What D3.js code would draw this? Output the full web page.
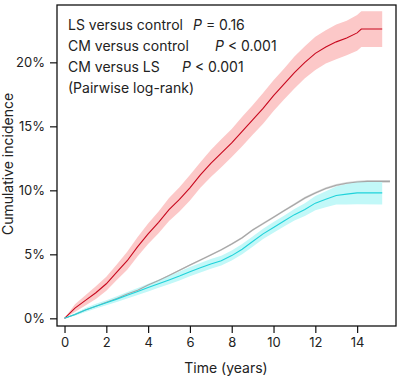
<!DOCTYPE html>
<html>
<head>
<meta charset="utf-8">
<script src="https://cdn.jsdelivr.net/npm/d3@7"></script>
<style>
  body { margin: 0; background: #fff; }
  svg { font-family: Inter, "Liberation Sans", Arial, sans-serif; }
</style>
</head>
<body>
<svg width="399" height="385"></svg>
<script>
// cumulative incidence curves (percent)

// CM (red)
var cmTime = [0, 0.5, 1, 1.5, 2, 2.5, 3, 3.5, 4, 4.5, 5, 5.5, 6, 6.5, 7, 7.5, 8, 8.5, 9, 9.5, 10, 10.5, 11, 11.5, 12, 12.5, 13, 13.5, 14, 14.2, 15.2];
var cmValue = [0, 0.8, 1.4, 2.0, 2.7, 3.6, 4.5, 5.6, 6.6, 7.5, 8.5, 9.3, 10.2, 11.2, 12.1, 12.9, 13.7, 14.6, 15.5, 16.4, 17.4, 18.3, 19.2, 20.0, 20.7, 21.2, 21.6, 21.9, 22.3, 22.6, 22.6];
var cmCI = [0, 0.3, 0.4, 0.5, 0.55, 0.6, 0.7, 0.75, 0.8, 0.85, 0.9, 0.95, 1.0, 1.0, 1.05, 1.1, 1.1, 1.15, 1.15, 1.2, 1.2, 1.2, 1.25, 1.25, 1.3, 1.3, 1.35, 1.35, 1.4, 1.4, 1.4];

// LS (cyan)
var lsTime = [0, 0.5, 1, 1.5, 2, 2.5, 3, 3.5, 4, 4.5, 5, 5.5, 6, 6.5, 7, 7.5, 8, 8.5, 9, 9.5, 10, 10.5, 11, 11.5, 12, 12.5, 13, 13.5, 14, 15.2];
var lsValue = [0, 0.3, 0.65, 0.95, 1.22, 1.5, 1.8, 2.1, 2.4, 2.7, 3.0, 3.3, 3.64, 3.95, 4.25, 4.5, 4.9, 5.4, 6.0, 6.6, 7.1, 7.6, 8.1, 8.5, 9.0, 9.3, 9.6, 9.7, 9.8, 9.8];
var lsCI = [0, 0.1, 0.15, 0.18, 0.2, 0.22, 0.25, 0.27, 0.3, 0.32, 0.33, 0.35, 0.36, 0.37, 0.38, 0.38, 0.39, 0.4, 0.4, 0.4, 0.42, 0.42, 0.45, 0.5, 0.55, 0.62, 0.7, 0.8, 0.88, 0.9];

// control (gray)
var ctrlTime = [0, 0.5, 1, 1.5, 2, 2.5, 3, 3.5, 4, 4.5, 5, 5.5, 6, 6.5, 7, 7.5, 8, 8.5, 9, 9.5, 10, 10.5, 11, 11.5, 12, 12.5, 13, 13.5, 14, 14.5, 15.57];
var ctrlValue = [0, 0.3, 0.65, 0.95, 1.25, 1.55, 1.9, 2.2, 2.6, 2.95, 3.35, 3.75, 4.16, 4.55, 4.95, 5.35, 5.8, 6.3, 6.9, 7.4, 7.9, 8.4, 8.9, 9.4, 9.8, 10.15, 10.4, 10.55, 10.65, 10.7, 10.7];
var ctrlCI = [0, 0.03, 0.04, 0.04, 0.05, 0.05, 0.05, 0.06, 0.06, 0.06, 0.06, 0.07, 0.07, 0.07, 0.07, 0.07, 0.08, 0.08, 0.08, 0.08, 0.08, 0.08, 0.09, 0.09, 0.09, 0.09, 0.1, 0.1, 0.1, 0.1, 0.1];

var xTicks = [0, 2, 4, 6, 8, 10, 12, 14];
var yTicks = [0, 5, 10, 15, 20];

var legendLines = [
  { label: "LS versus control ", p: " = 0.16", px: 193 },
  { label: "CM versus control", p: " < 0.001", px: 215 },
  { label: "CM versus LS", p: " < 0.001", px: 182 }
];

var svg = d3.select("svg");

// plot box (note: "top" is taken by window.top, so prefixed names)
var boxL = 57, boxR = 396, boxT = 5, boxB = 326;

var x = d3.scaleLinear().domain([-0.36, 15.86]).range([boxL, boxR]);
var y = d3.scaleLinear().domain([-0.6, 24.48]).range([boxB, boxT]);

function makeSeries(t, v, ci) {
  return t.map(function (d, i) {
    return { t: d, v: v[i], lo: Math.max(0, v[i] - ci[i]), hi: v[i] + ci[i] };
  });
}

var series = [
  { name: "CM", data: makeSeries(cmTime, cmValue, cmCI), line: "#c8081e", band: "#fcc8c8" },
  { name: "control", data: makeSeries(ctrlTime, ctrlValue, ctrlCI), line: "#a6a6a6", band: "#d8d8d8" },
  { name: "LS", data: makeSeries(lsTime, lsValue, lsCI), line: "#1fd2da", band: "#c2f8f8" }
];

var area = d3.area()
  .x(function (d) { return x(d.t); })
  .y0(function (d) { return y(d.lo); })
  .y1(function (d) { return y(d.hi); });

var line = d3.line()
  .x(function (d) { return x(d.t); })
  .y(function (d) { return y(d.v); });

// bands first, then lines on top
svg.selectAll("path.band")
  .data(series)
  .enter()
  .append("path")
  .attr("class", "band")
  .attr("fill", function (d) { return d.band; })
  .attr("d", function (d) { return area(d.data); });

svg.selectAll("path.curve")
  .data(series)
  .enter()
  .append("path")
  .attr("class", "curve")
  .attr("fill", "none")
  .attr("stroke", function (d) { return d.line; })
  .attr("stroke-width", 1.1)
  .attr("d", function (d) { return line(d.data); });

// frame
svg.append("rect")
  .attr("x", boxL)
  .attr("y", boxT)
  .attr("width", boxR - boxL)
  .attr("height", boxB - boxT)
  .attr("fill", "none")
  .attr("stroke", "#111")
  .attr("stroke-width", 1.3);

// axes
var xAxis = svg.append("g")
  .attr("transform", "translate(0," + boxB + ")")
  .call(d3.axisBottom(x).tickValues(xTicks).tickSize(7).tickPadding(5));

var yAxis = svg.append("g")
  .attr("transform", "translate(" + boxL + ",0)")
  .call(d3.axisLeft(y).tickValues(yTicks).tickSize(7).tickPadding(5)
    .tickFormat(function (d) { return d + "%"; }));

[xAxis, yAxis].forEach(function (g) {
  g.select(".domain").remove();
  g.selectAll("line").attr("stroke", "#111").attr("stroke-width", 1.2);
  g.selectAll("text")
    .attr("fill", "#222")
    .style("font-size", "13px")
    .style("font-family", "Inter, 'Liberation Sans', Arial, sans-serif");
});

// axis titles
svg.append("text")
  .attr("x", 226)
  .attr("y", 373)
  .attr("text-anchor", "middle")
  .attr("fill", "#222")
  .style("font-size", "14px")
  .text("Time (years)");

svg.append("text")
  .attr("transform", "translate(13,164) rotate(-90)")
  .attr("text-anchor", "middle")
  .attr("fill", "#222")
  .style("font-size", "14px")
  .text("Cumulative incidence");

// legend / stats text
var legend = svg.append("g");

legendLines.forEach(function (d, i) {
  var t = legend.append("text")
    .attr("x", 68)
    .attr("y", 30 + i * 21)
    .attr("fill", "#222")
    .style("font-size", "14px");
  t.append("tspan").text(d.label);
  t.append("tspan").attr("x", d.px).style("font-style", "italic").text("P");
  t.append("tspan").text(d.p);
});

legend.append("text")
  .attr("x", 68)
  .attr("y", 93)
  .attr("fill", "#222")
  .style("font-size", "14px")
  .text("(Pairwise log-rank)");
</script>
</body>
</html>
